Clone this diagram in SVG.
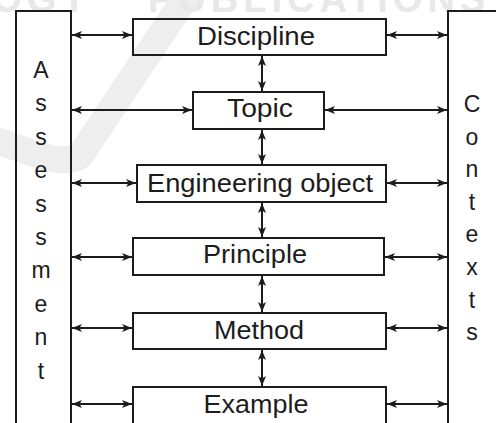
<svg xmlns="http://www.w3.org/2000/svg" width="496" height="423" viewBox="0 0 496 423">
  <style>
    .box { fill: none; stroke: #1c1c1c; stroke-width: 2; }
    .lbl { font-family: "Liberation Sans", Arial, sans-serif; font-size: 26px; fill: #1c1c1c; text-anchor: middle; }
    .side { font-family: "Liberation Sans", Arial, sans-serif; font-size: 23px; fill: #1c1c1c; text-anchor: middle; }
    .link { stroke: #1c1c1c; stroke-width: 2; fill: none; marker-start: url(#head); marker-end: url(#head); }
    .wm { font-family: "Liberation Sans", Arial, sans-serif; font-size: 38px; font-weight: bold; fill: #e8e8e8; letter-spacing: 5px; }
  </style>
  <defs>
    <marker id="head" viewBox="0 0 10 8" refX="10" refY="4" markerWidth="10" markerHeight="8" markerUnits="userSpaceOnUse" orient="auto-start-reverse">
      <path d="M0,0 L10,4 L0,8 L2.5,4 z" fill="#1c1c1c"/>
    </marker>
  </defs>

  <rect width="496" height="423" fill="#ffffff"/>

  <!-- faint publisher watermark -->
  <g id="watermark">
    <path d="M-12,138 C25,148 55,168 80,156 L192,-12" fill="none" stroke="#eeeeee" stroke-width="27" stroke-linejoin="round"/>
    <text class="wm" y="12"><tspan x="-36">LOGY</tspan><tspan x="148">PUBLICATIONS</tspan></text>
  </g>

  <!-- side frames -->
  <g id="assessment">
    <rect class="box" x="16" y="11" width="55" height="420"/>
    <text class="side" x="41" y="78">A</text>
    <text class="side" x="41" y="111.4">s</text>
    <text class="side" x="41" y="144.8">s</text>
    <text class="side" x="41" y="178.2">e</text>
    <text class="side" x="41" y="211.6">s</text>
    <text class="side" x="41" y="245">s</text>
    <text class="side" x="41" y="278.4">m</text>
    <text class="side" x="41" y="311.8">e</text>
    <text class="side" x="41" y="345.2">n</text>
    <text class="side" x="41" y="378.6">t</text>
  </g>
  <g id="contexts">
    <rect class="box" x="448" y="11" width="60" height="420"/>
    <text class="side" x="472" y="112">C</text>
    <text class="side" x="472" y="144.6">o</text>
    <text class="side" x="472" y="177.2">n</text>
    <text class="side" x="472" y="209.8">t</text>
    <text class="side" x="472" y="242.4">e</text>
    <text class="side" x="472" y="275">x</text>
    <text class="side" x="472" y="307.6">t</text>
    <text class="side" x="472" y="340.2">s</text>
  </g>

  <!-- level nodes -->
  <g id="discipline">
    <rect class="box" x="133" y="19" width="253" height="36"/>
    <text class="lbl" x="256" y="45" textLength="118" lengthAdjust="spacingAndGlyphs">Discipline</text>
  </g>
  <g id="topic">
    <rect class="box" x="193" y="92" width="131" height="37"/>
    <text class="lbl" x="260" y="117" textLength="66" lengthAdjust="spacingAndGlyphs">Topic</text>
  </g>
  <g id="engineering-object">
    <rect class="box" x="137" y="165" width="249" height="37"/>
    <text class="lbl" x="260" y="192" textLength="226" lengthAdjust="spacingAndGlyphs">Engineering object</text>
  </g>
  <g id="principle">
    <rect class="box" x="133" y="238" width="251" height="37"/>
    <text class="lbl" x="255" y="263" textLength="104" lengthAdjust="spacingAndGlyphs">Principle</text>
  </g>
  <g id="method">
    <rect class="box" x="133" y="313" width="253" height="36"/>
    <text class="lbl" x="259" y="339" textLength="90" lengthAdjust="spacingAndGlyphs">Method</text>
  </g>
  <g id="example">
    <rect class="box" x="133" y="387" width="253" height="44"/>
    <text class="lbl" x="256" y="413" textLength="105" lengthAdjust="spacingAndGlyphs">Example</text>
  </g>

  <!-- connectors -->
  <g id="connectors">
    <line class="link" x1="72" y1="35" x2="132" y2="35"/>
    <line class="link" x1="387" y1="35" x2="447" y2="35"/>
    <line class="link" x1="72" y1="110" x2="192" y2="110"/>
    <line class="link" x1="325" y1="110" x2="447" y2="110"/>
    <line class="link" x1="72" y1="183" x2="136" y2="183"/>
    <line class="link" x1="387" y1="183" x2="447" y2="183"/>
    <line class="link" x1="72" y1="257" x2="132" y2="257"/>
    <line class="link" x1="385" y1="257" x2="447" y2="257"/>
    <line class="link" x1="72" y1="328" x2="132" y2="328"/>
    <line class="link" x1="387" y1="328" x2="447" y2="328"/>
    <line class="link" x1="72" y1="404" x2="132" y2="404"/>
    <line class="link" x1="387" y1="404" x2="447" y2="404"/>

    <line class="link" x1="262" y1="56" x2="262" y2="91"/>
    <line class="link" x1="262" y1="130" x2="262" y2="164"/>
    <line class="link" x1="262" y1="203" x2="262" y2="237"/>
    <line class="link" x1="262" y1="276" x2="262" y2="312"/>
    <line class="link" x1="262" y1="350" x2="262" y2="386"/>
  </g>
</svg>
